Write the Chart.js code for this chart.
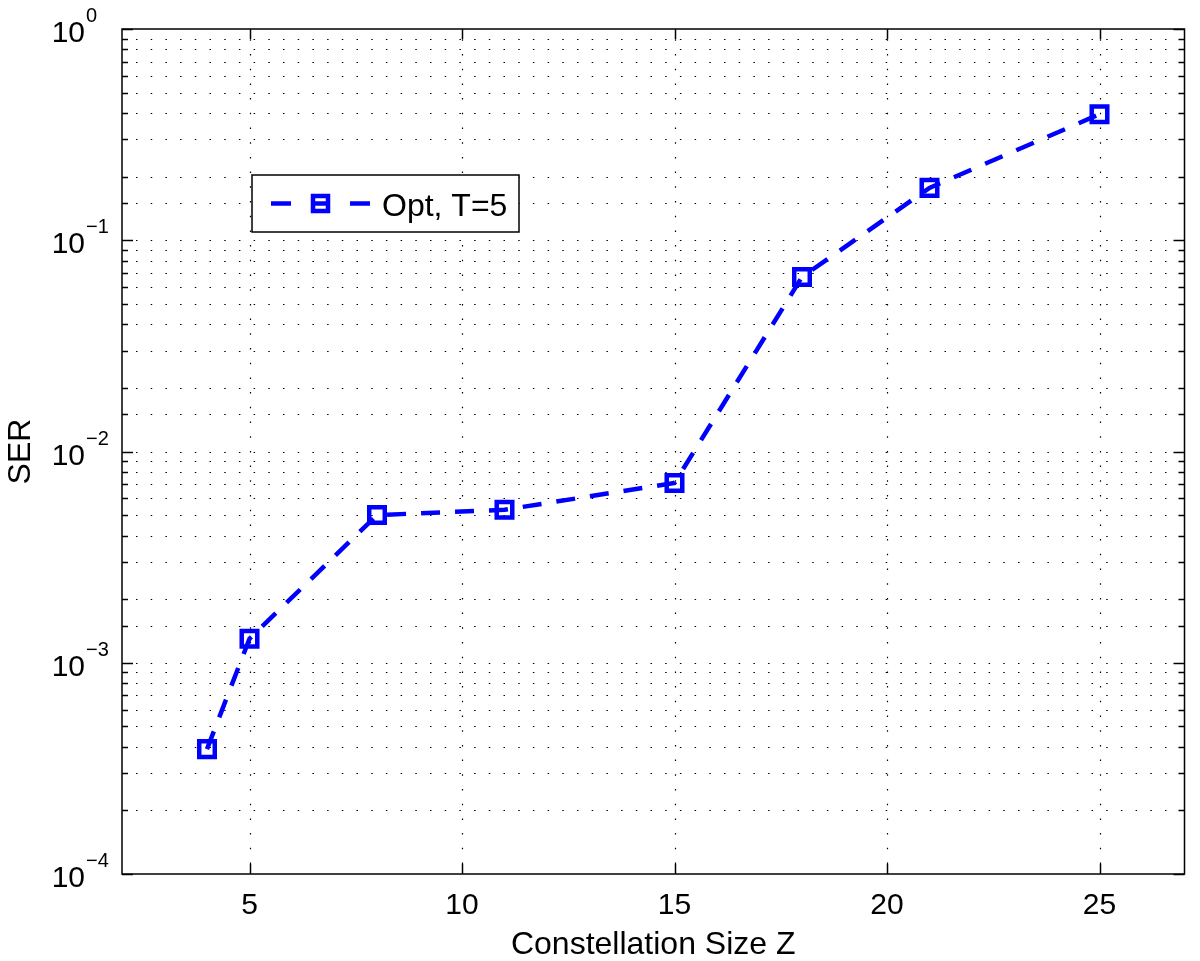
<!DOCTYPE html>
<html>
<head>
<meta charset="utf-8">
<script src="https://cdn.jsdelivr.net/npm/chart.js@4.4.0/dist/chart.umd.min.js"></script>
<style>
  html, body { margin: 0; padding: 0; background: #fff; }
  #wrap { width: 1200px; height: 961px; }
</style>
</head>
<body>
<div id="wrap"><canvas id="serChart" width="1200" height="961"></canvas></div>
<script>
// values
const constellationSizes = [4, 5, 8, 11, 15, 18, 21, 25];
const serOptT5 = [3.9e-4, 1.3e-3, 5.0e-3, 5.3e-3, 7.1e-3, 6.7e-2, 0.177, 0.395];
const xTicks = [5, 10, 15, 20, 25];
const yDecades = [-4, -3, -2, -1, 0];
const seriesLabel = 'Opt, T=5';
const xTitle = 'Constellation Size Z';
const yTitle = 'SER';

const FONT = "'Liberation Sans', Arial, Helvetica, sans-serif";
const BLUE = '#0000ff';

function line(ctx, x1, y1, x2, y2) {
    ctx.beginPath();
    ctx.moveTo(x1, y1);
    ctx.lineTo(x2, y2);
    ctx.stroke();
}

// MATLAB style box, dotted grid, inward ticks and labels
const matlabAxes = {
    id: 'matlabAxes',
    beforeDatasetsDraw(chart) {
        const { ctx, chartArea: a, scales: { x, y } } = chart;
        ctx.save();

        // dotted grid
        ctx.strokeStyle = '#000';
        ctx.lineWidth = 1.2;
        ctx.setLineDash([1.5, 13.2]);
        y.ticks.forEach(t => {
            const py = Math.round(y.getPixelForValue(t.value)) + 0.5;
            if (py <= a.top + 1 || py >= a.bottom - 1) return;
            line(ctx, a.left + 14, py, a.right, py);
        });
        xTicks.forEach(v => {
            const px = Math.round(x.getPixelForValue(v)) + 0.5;
            line(ctx, px, a.bottom - 10, px, a.top);
        });
        ctx.setLineDash([]);

        // inward tick marks
        ctx.lineWidth = 1.5;
        y.ticks.forEach(t => {
            const py = Math.round(y.getPixelForValue(t.value)) + 0.5;
            const major = Math.abs(Math.log10(t.value) - Math.round(Math.log10(t.value))) < 1e-6;
            const len = major ? 11 : 6;
            line(ctx, a.left, py, a.left + len, py);
            line(ctx, a.right, py, a.right - len, py);
        });
        xTicks.forEach(v => {
            const px = Math.round(x.getPixelForValue(v)) + 0.5;
            line(ctx, px, a.bottom, px, a.bottom - 10);
            line(ctx, px, a.top, px, a.top + 10);
        });

        // box
        ctx.strokeRect(a.left, a.top, a.right - a.left, a.bottom - a.top);

        // tick labels
        ctx.fillStyle = '#000';
        ctx.textBaseline = 'alphabetic';
        ctx.font = '30px ' + FONT;
        ctx.textAlign = 'center';
        xTicks.forEach(v => {
            ctx.fillText(String(v), x.getPixelForValue(v), a.bottom + 40);
        });
        yDecades.forEach(d => {
            const py = y.getPixelForValue(Math.pow(10, d));
            ctx.font = '30px ' + FONT;
            ctx.textAlign = 'right';
            ctx.fillText('10', a.left - 37, py + 13);
            ctx.font = '20px ' + FONT;
            ctx.textAlign = 'left';
            ctx.fillText(String(d).replace('-', '\u2212'), a.left - 36, py - 7);
        });

        // axis titles
        ctx.font = '32px ' + FONT;
        ctx.textAlign = 'center';
        ctx.fillText(xTitle, (a.left + a.right) / 2, a.bottom + 80);
        ctx.save();
        ctx.translate(30, (a.top + a.bottom) / 2);
        ctx.rotate(-Math.PI / 2);
        ctx.fillText(yTitle, 0, 0);
        ctx.restore();

        ctx.restore();
    },
    afterDatasetsDraw(chart) {
        // legend box
        const { ctx, chartArea: a } = chart;
        const ds = chart.data.datasets[0];
        const bx = a.left + 130, by = a.top + 146, bw = 267, bh = 57;
        const cy = by + bh / 2;
        ctx.save();
        ctx.fillStyle = '#fff';
        ctx.fillRect(bx, by, bw, bh);
        ctx.strokeStyle = '#000';
        ctx.lineWidth = 1.5;
        ctx.strokeRect(bx, by, bw, bh);

        ctx.strokeStyle = ds.borderColor;
        ctx.lineWidth = ds.borderWidth;
        line(ctx, bx + 19, cy, bx + 39, cy);
        line(ctx, bx + 98, cy, bx + 118, cy);
        ctx.lineWidth = 4.5;
        ctx.strokeRect(bx + 61, cy - 7.5, 15, 15);
        line(ctx, bx + 62, cy, bx + 76, cy);

        ctx.fillStyle = '#000';
        ctx.font = '32px ' + FONT;
        ctx.textAlign = 'left';
        ctx.textBaseline = 'alphabetic';
        ctx.fillText(ds.label, bx + 130, cy + 12);
        ctx.restore();
    }
};

new Chart(document.getElementById('serChart'), {
    type: 'line',
    data: {
        datasets: [{
            label: seriesLabel,
            data: constellationSizes.map((z, i) => ({ x: z, y: serOptT5[i] })),
            borderColor: BLUE,
            borderWidth: 4.5,
            borderDash: [19, 15],
            tension: 0,
            fill: false,
            pointStyle: 'rect',
            pointRadius: 11,
            pointHoverRadius: 11,
            pointBorderWidth: 4.5,
            pointBorderColor: BLUE,
            pointBackgroundColor: 'rgba(0,0,0,0)'
        }]
    },
    options: {
        responsive: false,
        devicePixelRatio: 1,
        animation: false,
        layout: {
            padding: { left: 122, top: 29, right: 7, bottom: 87 }
        },
        scales: {
            x: {
                type: 'linear',
                display: false,
                min: 2,
                max: 27
            },
            y: {
                type: 'logarithmic',
                display: false,
                min: 1e-4,
                max: 1
            }
        },
        plugins: {
            legend: { display: false },
            tooltip: { enabled: false }
        }
    },
    plugins: [matlabAxes]
});
</script>
</body>
</html>
